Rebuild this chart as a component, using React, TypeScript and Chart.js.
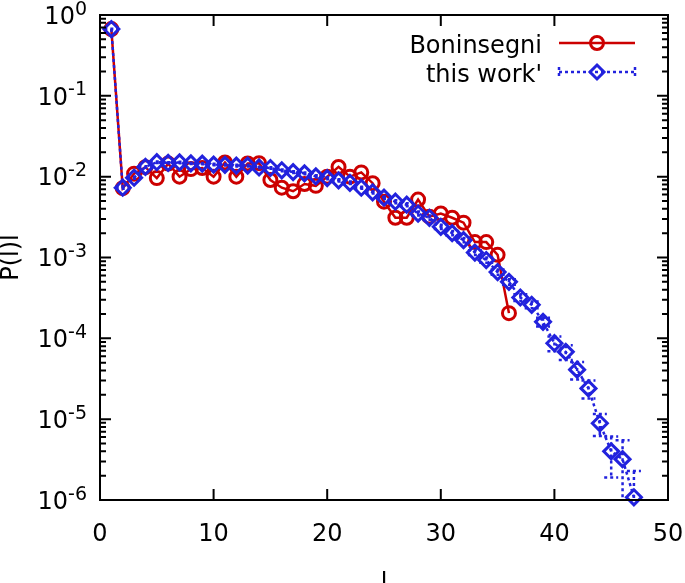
import React, { useEffect, useRef } from 'react';
import { Chart, registerables } from 'chart.js';

Chart.register(...registerables);

// ---- data ----
const lengthsBoninsegni = [
  1, 2, 3, 4, 5, 6, 7, 8, 9, 10, 11, 12, 13, 14, 15, 16, 17, 18,
  19, 20, 21, 22, 23, 24, 25, 26, 27, 28, 29, 30, 31, 32, 33, 34, 35, 36,
];
const probBoninsegni = [
  0.67, 0.0072, 0.0109, 0.0131, 0.0096, 0.0145, 0.0100, 0.0124, 0.0128, 0.0100,
  0.0150, 0.0100, 0.0146, 0.0147, 0.0091, 0.0073, 0.0066, 0.0081, 0.0077, 0.0100,
  0.0132, 0.0100, 0.0113, 0.0083, 0.0049, 0.0031, 0.0031, 0.0052, 0.0032, 0.0035,
  0.0031, 0.0027, 0.00155, 0.00155, 0.00108, 0.000205,
];

const lengthsThisWork = [
  1, 2, 3, 4, 5, 6, 7, 8, 9, 10, 11, 12, 13, 14, 15, 16, 17, 18, 19, 20,
  21, 22, 23, 24, 25, 26, 27, 28, 29, 30, 31, 32, 33, 34, 35, 36, 37, 38, 39, 40,
  41, 42, 43, 44, 45, 46, 47,
];
const probThisWork = [
  0.67, 0.0073, 0.0097, 0.0132, 0.0151, 0.0148, 0.0150, 0.0146, 0.0145, 0.0141,
  0.0140, 0.0137, 0.0137, 0.0130, 0.0128, 0.0120, 0.0114, 0.0110, 0.0101, 0.0096,
  0.0090, 0.0084, 0.0073, 0.0064, 0.0055, 0.0049, 0.0045, 0.0035, 0.0031, 0.0024,
  0.0020, 0.00164, 0.00115, 0.00093, 0.00066, 0.00050, 0.00032, 0.00026, 0.000160, 0.000087,
  0.000068, 0.000041, 0.000024, 0.0000089, 0.0000040, 0.0000032, 0.00000108,
];
const errThisWork = [
  0.005, 0.0002, 0.0003, 0.0003, 0.0003, 0.0003, 0.0003, 0.0003, 0.0003, 0.0003,
  0.0003, 0.0003, 0.0003, 0.0003, 0.0003, 0.0003, 0.0003, 0.0003, 0.0003, 0.0003,
  0.0003, 0.0003, 0.0002, 0.0002, 0.0002, 0.0002, 0.0002, 0.0002, 0.0002, 0.00015,
  0.00012, 0.0001, 0.00008, 0.00007, 0.00005, 0.00004, 0.00003, 0.000025, 0.00002, 0.000018,
  0.000014, 0.00001, 0.000006, 0.0000027, 0.0000021, 0.0000023, 0.0000012,
];

const xTickValues = [0, 10, 20, 30, 40, 50];
const yExponents = [0, -1, -2, -3, -4, -5, -6];
const seriesLabels = ['Boninsegni', "this work'"];
const xTitle = 'l';
const yTitle = 'P(l)l';

const RED = '#cc0000';
const BLUE = '#2222dd';
const FONT = '"DejaVu Sans", sans-serif';

const gnuplotPlugin = {
  id: 'gnuplotDecor',
  afterDatasetsDraw(chart: any) {
    const { ctx, chartArea: a, scales } = chart;
    const xs = scales.x;
    const ys = scales.y;
    // error bars for "this work'"
    ctx.save();
    ctx.beginPath();
    ctx.rect(a.left, a.top, a.right - a.left, a.bottom - a.top);
    ctx.clip();
    ctx.strokeStyle = BLUE;
    ctx.lineWidth = 2.5;
    ctx.setLineDash([3, 3]);
    ctx.lineCap = 'butt';
    for (let i = 0; i < lengthsThisWork.length; i++) {
      const v = probThisWork[i];
      const e = errThisWork[i];
      const px = xs.getPixelForValue(lengthsThisWork[i]);
      const pTop = ys.getPixelForValue(v + e);
      const lowVal = v - e;
      const pBot = lowVal > 0 ? ys.getPixelForValue(lowVal) : a.bottom + 5;
      ctx.beginPath();
      ctx.moveTo(px, pTop);
      ctx.lineTo(px, pBot);
      ctx.moveTo(px - 7, pTop);
      ctx.lineTo(px + 7, pTop);
      if (lowVal > 0) {
        ctx.moveTo(px - 7, pBot);
        ctx.lineTo(px + 7, pBot);
      }
      ctx.stroke();
    }
    ctx.restore();
  },
  afterDraw(chart: any) {
    const { ctx, chartArea: a, scales } = chart;
    const xs = scales.x;
    const ys = scales.y;
    ctx.save();
    ctx.strokeStyle = '#000';
    ctx.lineWidth = 2;
    ctx.setLineDash([]);
    ctx.lineCap = 'butt';
    ctx.beginPath();
    for (const t of xTickValues) {
      const px = xs.getPixelForValue(t);
      ctx.moveTo(px, a.bottom);
      ctx.lineTo(px, a.bottom - 11);
      ctx.moveTo(px, a.top);
      ctx.lineTo(px, a.top + 11);
    }
    for (const k of yExponents) {
      const py = ys.getPixelForValue(Math.pow(10, k));
      ctx.moveTo(a.left, py);
      ctx.lineTo(a.left + 11, py);
      ctx.moveTo(a.right, py);
      ctx.lineTo(a.right - 11, py);
      if (k < 0) {
        for (let m = 2; m <= 9; m++) {
          const pm = ys.getPixelForValue(m * Math.pow(10, k));
          ctx.moveTo(a.left, pm);
          ctx.lineTo(a.left + 6, pm);
          ctx.moveTo(a.right, pm);
          ctx.lineTo(a.right - 6, pm);
        }
      }
    }
    ctx.stroke();
    ctx.strokeRect(a.left, a.top, a.right - a.left, a.bottom - a.top);

    // y tick labels 10^k
    ctx.fillStyle = '#000';
    ctx.textBaseline = 'alphabetic';
    const rightEdge = a.left - 13;
    for (const k of yExponents) {
      const py = ys.getPixelForValue(Math.pow(10, k));
      const exp = String(k);
      ctx.font = `19px ${FONT}`;
      const we = ctx.measureText(exp).width;
      ctx.textAlign = 'left';
      ctx.fillText(exp, rightEdge - we, py - 0.5);
      ctx.font = `24px ${FONT}`;
      ctx.textAlign = 'right';
      ctx.fillText('10', rightEdge - we, py + 8.7);
    }

    // legend
    const textRight = 542;
    const rows = [43, 72];
    const lx0 = 559;
    const lx1 = 635;
    const mx = 597;
    ctx.font = `24px ${FONT}`;
    ctx.textAlign = 'right';
    ctx.textBaseline = 'alphabetic';
    ctx.fillText(seriesLabels[0], textRight, rows[0] + 9.5);
    ctx.fillText(seriesLabels[1], textRight, rows[1] + 10);
    // red sample
    ctx.strokeStyle = RED;
    ctx.lineWidth = 2.5;
    ctx.beginPath();
    ctx.moveTo(lx0, rows[0]);
    ctx.lineTo(lx1, rows[0]);
    ctx.stroke();
    ctx.lineWidth = 3;
    ctx.beginPath();
    ctx.arc(mx, rows[0], 6.5, 0, Math.PI * 2);
    ctx.stroke();
    // blue sample
    ctx.strokeStyle = BLUE;
    ctx.lineWidth = 2.5;
    ctx.setLineDash([3, 3]);
    ctx.beginPath();
    ctx.moveTo(lx0, rows[1]);
    ctx.lineTo(lx1, rows[1]);
    ctx.moveTo(lx0, rows[1] - 5);
    ctx.lineTo(lx0, rows[1] + 5);
    ctx.moveTo(lx1, rows[1] - 5);
    ctx.lineTo(lx1, rows[1] + 5);
    ctx.stroke();
    ctx.setLineDash([]);
    ctx.lineWidth = 3;
    ctx.beginPath();
    ctx.moveTo(mx, rows[1] - 7);
    ctx.lineTo(mx + 7, rows[1]);
    ctx.lineTo(mx, rows[1] + 7);
    ctx.lineTo(mx - 7, rows[1]);
    ctx.closePath();
    ctx.stroke();
    ctx.restore();
  },
};

export default function App() {
  const ref = useRef<HTMLCanvasElement>(null);
  useEffect(() => {
    const canvas = ref.current;
    if (!canvas) return;
    const chart = new Chart(canvas, {
      type: 'line',
      data: {
        datasets: [
          {
            label: seriesLabels[0],
            data: lengthsBoninsegni.map((l, i) => ({ x: l, y: probBoninsegni[i] })),
            borderColor: RED,
            borderWidth: 2.5,
            pointStyle: 'circle',
            pointRadius: 6.5,
            pointBorderWidth: 3,
            pointBorderColor: RED,
            pointBackgroundColor: 'rgba(0,0,0,0)',
            backgroundColor: 'rgba(0,0,0,0)',
            tension: 0,
            fill: false,
            clip: false as any,
            order: 1,
          },
          {
            label: seriesLabels[1],
            data: lengthsThisWork.map((l, i) => ({ x: l, y: probThisWork[i] })),
            borderColor: BLUE,
            borderWidth: 2.5,
            borderDash: [3, 3],
            pointStyle: 'rectRot',
            pointRadius: 7.5,
            pointBorderWidth: 3,
            pointBorderColor: BLUE,
            pointBackgroundColor: 'rgba(0,0,0,0)',
            backgroundColor: 'rgba(0,0,0,0)',
            tension: 0,
            fill: false,
            clip: false as any,
            order: 0,
          },
        ],
      },
      options: {
        responsive: false,
        animation: false,
        devicePixelRatio: 1,
        layout: { padding: { left: 0, right: 17, top: 15, bottom: 0 } },
        plugins: {
          legend: { display: false },
          tooltip: { enabled: false },
        },
        elements: { point: { hoverRadius: 7 } },
        scales: {
          x: {
            type: 'linear',
            min: 0,
            max: 50,
            position: 'bottom',
            afterFit: (s: any) => {
              s.height = 83;
              s.paddingLeft = 0;
              s.paddingRight = 0;
            },
            grid: { display: false },
            border: { display: false },
            ticks: {
              stepSize: 10,
              padding: 12,
              autoSkip: false,
              maxRotation: 0,
              color: '#000',
              font: { family: FONT, size: 24 },
            },
            title: {
              display: true,
              text: xTitle,
              color: '#000',
              font: { family: FONT, size: 24 },
              padding: { top: 0, bottom: -15 },
            },
          },
          y: {
            type: 'logarithmic',
            min: 1e-6,
            max: 1,
            position: 'left',
            afterFit: (s: any) => {
              s.width = 100;
              s.paddingTop = 0;
              s.paddingBottom = 0;
            },
            grid: { display: false },
            border: { display: false },
            ticks: { display: false },
            title: {
              display: true,
              text: yTitle,
              color: '#000',
              font: { family: FONT, size: 24 },
              padding: { top: -3, bottom: 0 },
            },
          },
        },
      },
      plugins: [gnuplotPlugin],
    } as any);
    return () => chart.destroy();
  }, []);
  return (
    <div style={{ position: 'fixed', left: 0, top: 0, width: 685, height: 583, background: '#fff' }}>
      <canvas ref={ref} width={685} height={583} style={{ display: 'block', width: 685, height: 583 }} />
    </div>
  );
}
